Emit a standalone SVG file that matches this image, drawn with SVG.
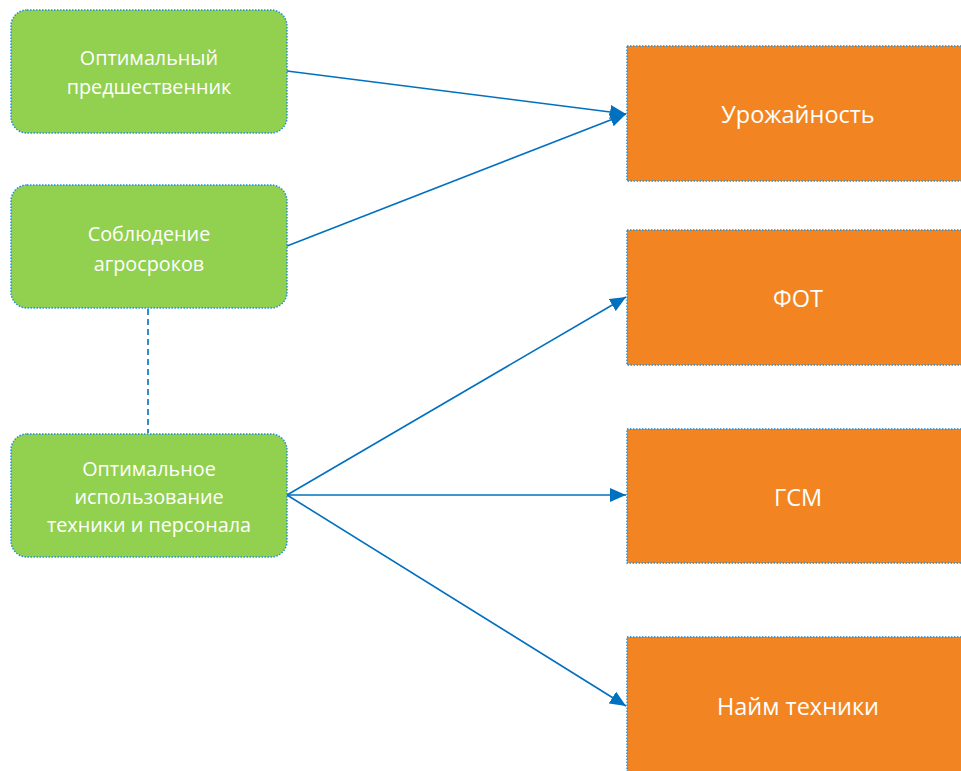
<svg xmlns="http://www.w3.org/2000/svg" width="961" height="771" viewBox="0 0 961 771">
<style>
.g{fill:#92D050;stroke:#1E90E0;stroke-width:1.5;stroke-dasharray:1.5 1.5}
.o{fill:#F28522;stroke:#1E90E0;stroke-width:1.5;stroke-dasharray:1.5 1.5}
.t{font-family:"Open Sans","Noto Sans","Liberation Sans",sans-serif;fill:#fff;text-anchor:middle}
.ts{font-size:19.8px}
.tl{font-size:23.5px}
.c{stroke:#0070C0;stroke-width:1.6;fill:none}
</style>
<defs>
<marker id="ah" markerUnits="userSpaceOnUse" markerWidth="18" markerHeight="14" refX="16" refY="7" orient="auto">
<path d="M0,0 L16,7 L0,14 Z" fill="#0070C0"/>
</marker>
</defs>
<g id="connectors">
<line class="c" x1="287" y1="71" x2="626" y2="114" marker-end="url(#ah)"/>
<line class="c" x1="287" y1="246" x2="626" y2="114" marker-end="url(#ah)"/>
<line class="c" x1="148" y1="309" x2="148" y2="433" stroke-dasharray="6 4"/>
<line class="c" x1="287" y1="495" x2="626" y2="297" marker-end="url(#ah)"/>
<line class="c" x1="287" y1="495" x2="626" y2="495" marker-end="url(#ah)"/>
<line class="c" x1="287" y1="495" x2="626" y2="706" marker-end="url(#ah)"/>
</g>
<g id="n1">
<rect class="g" x="11" y="10" width="276" height="123" rx="16"/>
<text class="t ts" x="149" y="65">Оптимальный</text>
<text class="t ts" x="149" y="94">предшественник</text>
</g>
<g id="n2">
<rect class="g" x="11" y="185" width="276" height="123" rx="16"/>
<text class="t ts" x="149" y="241">Соблюдение</text>
<text class="t ts" x="149" y="271">агросроков</text>
</g>
<g id="n3">
<rect class="g" x="11" y="434" width="276" height="123" rx="16"/>
<text class="t ts" x="149" y="476">Оптимальное</text>
<text class="t ts" x="149" y="504">использование</text>
<text class="t ts" x="149" y="532">техники и персонала</text>
</g>
<g id="n4">
<rect class="o" x="627" y="46" width="340" height="135"/>
<text class="t tl" x="798" y="123">Урожайность</text>
</g>
<g id="n5">
<rect class="o" x="627" y="230" width="340" height="135"/>
<text class="t tl" x="798" y="307">ФОТ</text>
</g>
<g id="n6">
<rect class="o" x="627" y="429" width="340" height="134"/>
<text class="t tl" x="798" y="506">ГСМ</text>
</g>
<g id="n7">
<rect class="o" x="627" y="637" width="340" height="140"/>
<text class="t tl" x="798" y="715">Найм техники</text>
</g>
</svg>
